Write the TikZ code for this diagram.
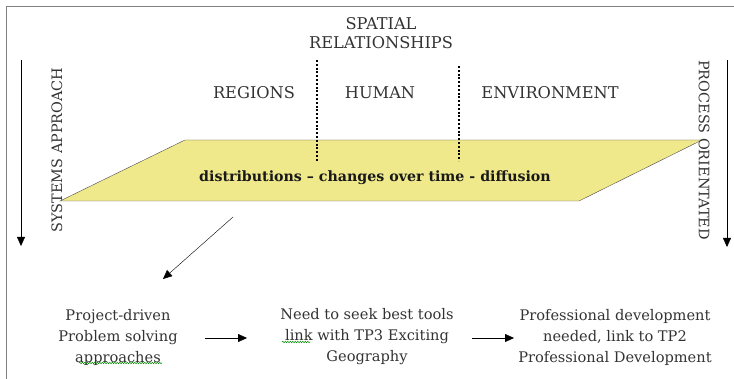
\documentclass[tikz,border=0pt]{standalone}
\usepackage{fontspec}
\setmainfont{DejaVu Serif}
\usetikzlibrary{arrows.meta,decorations.pathmorphing}
\definecolor{slab}{RGB}{240,233,140}

\begin{document}
\begin{tikzpicture}[x=1pt,y=-1pt,
    every node/.style={font=\fontsize{14.6}{21}\selectfont, text=black!80, inner sep=0pt},
    caps/.style={font=\fontsize{16.2}{19}\selectfont},
    side/.style={font=\fontsize{14.4}{18}\selectfont},
    tip/.style={-{Triangle[length=9pt,width=8pt]}},
    squiggle/.style={green!55!black, line width=0.5pt, decorate,
      decoration={snake, amplitude=0.7pt, segment length=2.5pt}}]
  \useasboundingbox (0,0) rectangle (734,379);
  % frame
  \draw [gray, line width=1pt] (6,379) -- (6,7) -- (734,7);
  % the slab
  \draw [fill=slab, draw=black!70] (60,201) -- (185,140) -- (702,140) -- (579,201) -- cycle;
  \draw [line width=2.4pt, dash pattern=on 2pt off 1.8pt] (317,60) -- (317,161);
  \draw [line width=2.4pt, dash pattern=on 2pt off 1.8pt] (459,66) -- (459,161);
  \node [font=\fontsize{14.2}{18}\bfseries, text=black!90] (dist) at (375,178) {distributions -- changes over time - diffusion};
  % labels on top
  \node [caps, align=center] (spatial) at (381,33) {SPATIAL\\RELATIONSHIPS};
  \node [caps] (regions) at (254,93) {REGIONS};
  \node [caps] (human) at (380,93) {HUMAN};
  \node [caps] (env) at (550,93) {ENVIRONMENT};
  \node [side, rotate=90] (systems) at (57,150) {SYSTEMS APPROACH};
  \node [side, rotate=-90] (process) at (704,150) {PROCESS ORIENTATED};
  % side arrows
  \coordinate (s1) at (21,60);
  \coordinate (s2) at (21,246);
  \coordinate (p1) at (727,60);
  \coordinate (p2) at (727,247);
  \draw [tip] (s1) -- (s2);
  \draw [tip] (p1) -- (p2);
  % bottom row
  \node [align=center] (proj) at (118,337) {Project-driven\\Problem solving\\approaches};
  \node [align=center] (tools) at (367,337) {Need to seek best tools\\link with TP3 Exciting\\Geography};
  \node [align=center] (prof) at (615,337) {Professional development\\needed, link to TP2\\Professional Development};
  \draw [squiggle] (79,363) -- (162,363);
  \draw [squiggle] (282,342) -- (310,342);
  \coordinate (d1) at (233,217);
  \coordinate (d2) at (163,279);
  \draw [tip] (d1) -- (d2);
  \coordinate (a1) at (205,338);
  \coordinate (a2) at (247,338);
  \coordinate (b1) at (472,338);
  \coordinate (b2) at (514,338);
  \draw [tip] (a1) -- (a2);
  \draw [tip] (b1) -- (b2);
\end{tikzpicture}
\end{document}
